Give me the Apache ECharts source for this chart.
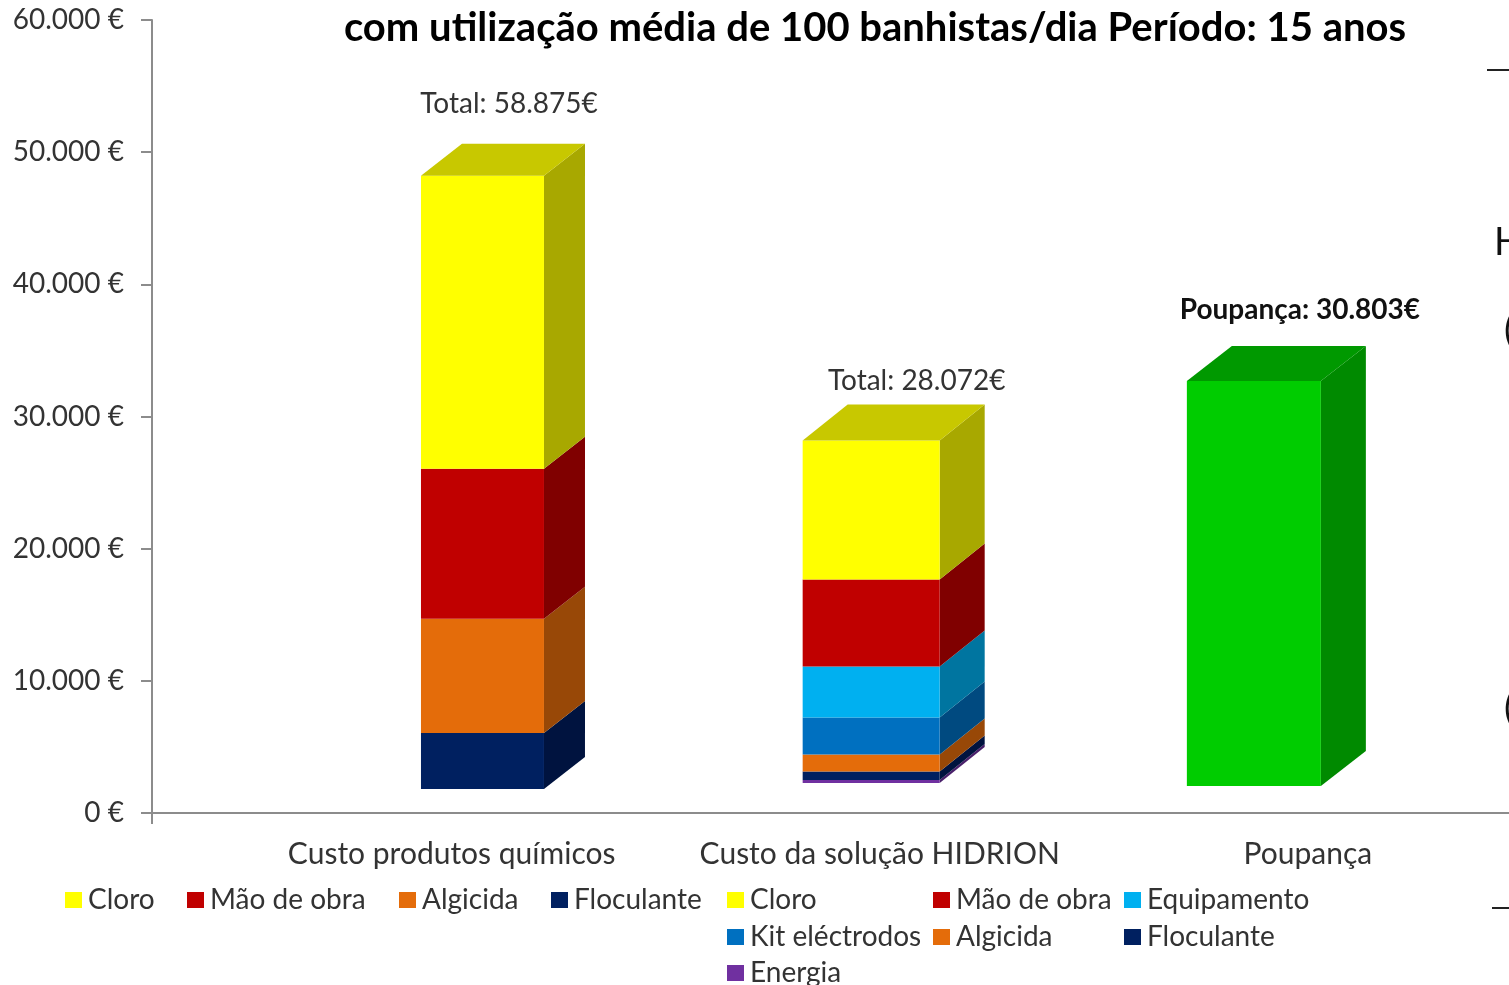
<!DOCTYPE html>
<html>
<head>
<meta charset="utf-8">
<title>Custo produtos químicos vs HIDRION</title>
<script src="https://cdn.jsdelivr.net/npm/echarts@6/dist/echarts.min.js"></script>
<style>
  html, body { margin: 0; background: #fff; }
  #chart { width: 1509px; height: 985px; }
</style>
</head>
<body>
<div id="chart"></div>
<script>
// values (the drawn bars float above the axis, hence barBase)
const categories = ["Custo produtos químicos", "Custo da solução HIDRION", "Poupança"];
const barBase = [1820, 2270, 2040];
const energia = [null, 230, null];
const floculante = [4240, 640, null];
const algicida = [8630, 1290, null];
const kitElectrodos = [null, 2800, null];
const equipamento = [null, 3860, null];
const maoDeObra = [11350, 6580, null];
const cloro = [22170, 10520, null];
const poupanca = [null, null, 30640];
const barLabels = ["Total: 58.875€", "Total: 28.072€", "Poupança: 30.803€"];
const legendNames = ["Cloro", "Mão de obra", "Algicida", "Floculante", "Cloro", "Mão de obra", "Equipamento", "Kit eléctrodos", "Algicida", "Floculante", "Energia"];

// layout of the fake 3d bars
const barShift = [0.072, -0.02, -0.126];
const barWidth = [123, 137, 134];
const barDepth = [[41, 32], [45, 36], [45, 35]];
const labelShift = [[88, -72], [114, -59], [113, -71]];
const legendLeft = [60, 182, 394, 546, 722, 928, 1119, 722, 928, 1119, 722];
const legendTop = [881, 881, 881, 881, 881, 881, 881, 918, 918, 918, 954];

const FONT = "Lato, sans-serif";
const TEXT = "#333";

const stackDefs = [
  { name: "Energia", values: energia, front: "#7030a0", side: "#4a206b" },
  { name: "Floculante", values: floculante, front: "#002060", side: "#00133f" },
  { name: "Algicida", values: algicida, front: "#e46c0a", side: "#984807" },
  { name: "Kit eléctrodos", values: kitElectrodos, front: "#0070c0", side: "#004a80" },
  { name: "Equipamento", values: equipamento, front: "#00b0f0", side: "#0075a0" },
  { name: "Mão de obra", values: maoDeObra, front: "#c00000", side: "#800000" },
  { name: "Cloro", values: cloro, front: "#ffff00", side: "#a8a800", top: "#c8c800" },
  { name: "Poupança", values: poupanca, front: "#00cc00", side: "#008a00", top: "#009900" }
];

function stackStart(defIndex, cat) {
  let sum = barBase[cat];
  for (let i = 0; i < defIndex; i++) {
    sum += stackDefs[i].values[cat] || 0;
  }
  return sum;
}

function renderSegment(defIndex) {
  const def = stackDefs[defIndex];
  return function (params, api) {
    const cat = api.value(0);
    const start = stackStart(defIndex, cat);
    const bottom = api.coord([cat + barShift[cat], start]);
    const topPt = api.coord([cat + barShift[cat], start + api.value(1)]);
    const w = barWidth[cat];
    const dx = barDepth[cat][0];
    const dy = barDepth[cat][1];
    const x0 = bottom[0] - w / 2;
    const x1 = bottom[0] + w / 2;
    const children = [
      {
        type: "polygon",
        shape: { points: [[x1, bottom[1]], [x1 + dx, bottom[1] - dy], [x1 + dx, topPt[1] - dy], [x1, topPt[1]]] },
        style: { fill: def.side }
      },
      {
        type: "rect",
        shape: { x: x0, y: topPt[1], width: w, height: bottom[1] - topPt[1] },
        style: { fill: def.front }
      }
    ];
    if (def.top) {
      children.push({
        type: "polygon",
        shape: { points: [[x0, topPt[1]], [x0 + dx, topPt[1] - dy], [x1 + dx, topPt[1] - dy], [x1, topPt[1]]] },
        style: { fill: def.top }
      });
    }
    return { type: "group", children: children };
  };
}

function renderBarLabel(params, api) {
  const cat = api.value(0);
  const left = api.coord([cat + barShift[cat], api.value(1)]);
  const bold = cat === 2;
  return {
    type: "text",
    x: left[0] - barWidth[cat] / 2 + labelShift[cat][0],
    y: left[1] + labelShift[cat][1],
    style: {
      text: barLabels[cat],
      fill: bold ? "#111" : TEXT,
      font: (bold ? "bold 28px " : "28px ") + FONT,
      align: "center",
      verticalAlign: "middle"
    }
  };
}

const series = stackDefs.map(function (def, i) {
  return {
    type: "custom",
    name: def.name,
    clip: false,
    itemStyle: { color: def.front },
    renderItem: renderSegment(i),
    data: def.values
      .map(function (v, cat) { return v == null ? null : [cat, v]; })
      .filter(function (d) { return d; })
  };
});

series.push({
  type: "custom",
  name: "Totais",
  clip: false,
  silent: true,
  renderItem: renderBarLabel,
  data: categories.map(function (c, cat) {
    return [cat, stackStart(stackDefs.length, cat)];
  })
});

const legends = legendNames.map(function (name, i) {
  return {
    data: [name],
    left: legendLeft[i],
    top: legendTop[i],
    icon: "rect",
    itemWidth: 17,
    itemHeight: 16,
    itemGap: 0,
    selectedMode: false,
    textStyle: { fontFamily: FONT, fontSize: 28, color: TEXT, padding: [0, 0, 0, 1] }
  };
});

const myChart = echarts.init(document.getElementById("chart"));
myChart.setOption({
  animation: false,
  backgroundColor: "#fff",
  title: {
    text: "com utilização média de 100 banhistas/dia Período: 15 anos",
    left: 870,
    top: 3,
    textAlign: "center",
    textStyle: { fontFamily: FONT, fontSize: 40, fontWeight: "bold", color: "#000" }
  },
  legend: legends,
  grid: { left: 152, right: 0, top: 20, bottom: 172 },
  xAxis: {
    type: "value",
    min: -0.7,
    max: 2.47,
    splitLine: { show: false },
    axisLine: { onZero: false, lineStyle: { color: "#8c8c8c", width: 2 } },
    axisTick: { show: true, length: 11, customValues: [-0.7], lineStyle: { color: "#8c8c8c", width: 2 } },
    axisLabel: {
      show: true,
      customValues: [0, 1, 2],
      margin: 26,
      fontFamily: FONT,
      fontSize: 30,
      color: TEXT,
      formatter: function (v) { return categories[v]; }
    }
  },
  yAxis: {
    type: "value",
    min: 0,
    max: 60000,
    interval: 10000,
    splitLine: { show: false },
    axisLine: { show: true, onZero: false, lineStyle: { color: "#8c8c8c", width: 2 } },
    axisTick: { show: true, length: 11, lineStyle: { color: "#8c8c8c", width: 2 } },
    axisLabel: {
      margin: 28,
      padding: [4, 0, 0, 0],
      fontFamily: FONT,
      fontSize: 28,
      color: TEXT,
      formatter: function (v) {
        return v === 0 ? "0 €" : (v / 1000) + ".000 €";
      }
    }
  },
  // bits of the neighbouring slide text, cut by the right edge
  graphic: [
    { type: "line", shape: { x1: 1487, y1: 70, x2: 1509, y2: 70 }, style: { stroke: "#222", lineWidth: 2 } },
    { type: "line", shape: { x1: 1492, y1: 908, x2: 1509, y2: 908 }, style: { stroke: "#222", lineWidth: 2 } },
    { type: "text", x: 1494, y: 224, style: { text: "H", font: "38px " + FONT, fill: "#111" } },
    { type: "text", x: 1504, y: 312, style: { text: "(", font: "38px " + FONT, fill: "#111" } },
    { type: "text", x: 1504, y: 690, style: { text: "(", font: "38px " + FONT, fill: "#111" } }
  ],
  series: series
});

window.addEventListener("resize", function () {
  myChart.resize();
});
</script>
</body>
</html>
